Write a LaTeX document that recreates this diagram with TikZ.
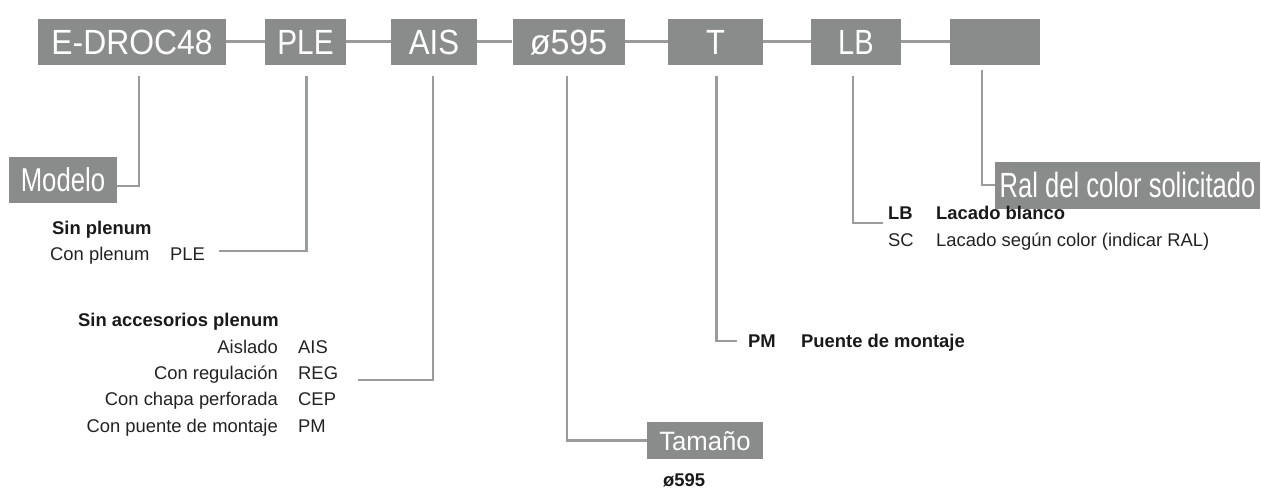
\documentclass[tikz,border=0pt]{standalone}
\usepackage{fontspec}
\setmainfont{Liberation Sans}
\definecolor{boxgray}{HTML}{8A8C8C}
\definecolor{linegray}{HTML}{9A9B9B}
\definecolor{textdark}{HTML}{222222}
\newcommand{\bxs}[2]{\scalebox{#1}[1]{#2}}
\tikzset{
  codebox/.style={fill=boxgray, text=white, inner sep=0pt, minimum height=46pt,
    text height=25.2pt, text depth=0pt, font=\fontsize{35}{35}\selectfont},
  conn/.style={draw=linegray, line width=2.2pt},
  lbl/.style={font=\fontsize{18.4}{18.4}\selectfont, text=textdark, inner sep=0pt, anchor=base west},
  lblr/.style={lbl, anchor=base east},
  blbl/.style={lbl, font=\fontsize{18.4}{18.4}\selectfont\bfseries, text=black!90}
}
\begin{document}
\begin{tikzpicture}[x=1pt,y=-1pt]
\useasboundingbox (0,0) rectangle (1261,488);
% top row of code boxes
\node[codebox, minimum width=188.5pt] (mod) at (132,41.5) {\bxs{0.91}{E-DROC48}};
\node[codebox, minimum width=81pt] (ple) at (305.5,41.5) {\bxs{0.85}{PLE}};
\node[codebox, minimum width=86.5pt] (ais) at (434,41.5) {\bxs{0.89}{AIS}};
\node[codebox, minimum width=112pt] (dia) at (568.5,41.5) {\bxs{0.97}{ø595}};
\node[codebox, minimum width=95pt] (t) at (715.5,41.5) {\bxs{0.88}{T}};
\node[codebox, minimum width=90pt] (lb) at (856,41.5) {\bxs{0.83}{LB}};
\node[codebox, minimum width=90pt] (ral) at (995,41.5) {};
\draw[conn] (mod.east) -- (ple.west);
\draw[conn] (ple.east) -- (ais.west);
\draw[conn] (ais.east) -- (dia.west);
\draw[conn] (dia.east) -- (t.west);
\draw[conn] (t.east) -- (lb.west);
\draw[conn] (lb.east) -- (ral.west);
% title boxes
\node[codebox, minimum width=108.5pt, font=\fontsize{33}{33}\selectfont, text height=23.7pt] (modelo) at (63,180) {\bxs{0.78}{Modelo}};
\node[codebox, minimum width=265pt, minimum height=47pt] (ralt) at (1127.5,185) {\bxs{0.73}{Ral del color solicitado}};
\node[codebox, minimum width=116pt, minimum height=37pt, font=\fontsize{26.5}{26.5}\selectfont, text height=19pt] (tam) at (705,440.5) {\bxs{0.97}{Tamaño}};
% connector tops
\coordinate (modtop) at (139,76);
\coordinate (pletop) at (306.5,76);
\coordinate (aistop) at (433,76);
\coordinate (diatop) at (567,76);
\coordinate (ttop) at (716.5,76);
\coordinate (lbtop) at (853,76);
\coordinate (raltop) at (982,70);
\coordinate (pleend) at (219,251);
\coordinate (aisend) at (358,380);
\coordinate (tend) at (737,341);
\coordinate (lbend) at (883,223);
\draw[conn] (modtop) |- ([yshift=-6pt]modelo.east);
\draw[conn] (pletop) |- (pleend);
\draw[conn] (aistop) |- (aisend);
\draw[conn] (diatop) |- (tam.west);
\draw[conn] (ttop) |- (tend);
\draw[conn] (lbtop) |- (lbend);
\draw[conn] (raltop) |- (ralt.west);
% PLE texts
\node[blbl] (sinple) at (52,234) {Sin plenum};
\node[lbl] (conple) at (50,260) {Con plenum};
\node[lbl] (pletxt) at (170,260) {PLE};
% AIS texts
\node[blbl] (sinacc) at (78,326.7) {Sin accesorios plenum};
\node[lblr] (aisl) at (278,353.3) {Aislado};
\node[lblr] (creg) at (278,379.3) {Con regulación};
\node[lblr] (ccep) at (278,405.3) {Con chapa perforada};
\node[lblr] (cpm) at (278,432.3) {Con puente de montaje};
\node[lbl] (aiscode) at (298,353.3) {AIS};
\node[lbl] (regcode) at (298,379.3) {REG};
\node[lbl] (cepcode) at (298,405.3) {CEP};
\node[lbl] (pmcode) at (298,432.3) {PM};
% T texts
\node[blbl] (pmt) at (748,347.3) {PM};
\node[blbl] (pmdesc) at (801,347.3) {Puente de montaje};
% size
\node[blbl] (sz) at (663,486) {ø595};
% LB texts
\node[blbl] (lbc) at (888,219.3) {LB};
\node[blbl] (lbd) at (936,219.3) {Lacado blanco};
\node[lbl] (scc) at (888,246.7) {SC};
\node[lbl] (scd) at (936,246.7) {Lacado según color (indicar RAL)};
\end{tikzpicture}
\end{document}
